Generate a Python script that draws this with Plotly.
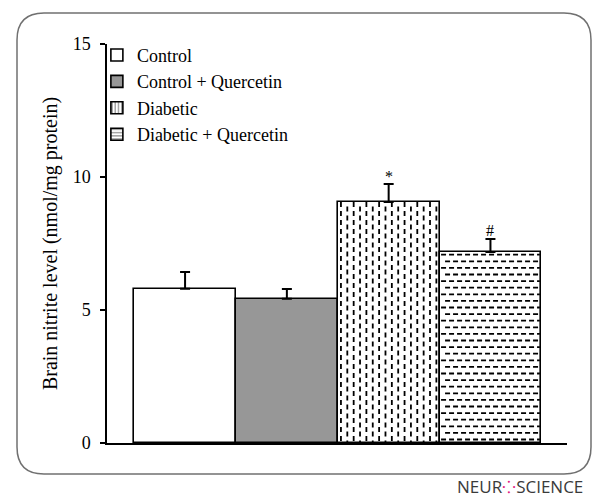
import plotly.graph_objects as go

# ---- data -------------------------------------------------------------
groups = ["Control", "Control + Quercetin", "Diabetic", "Diabetic + Quercetin"]
nitrite = [5.8, 5.42, 9.06, 7.18]          # nmol/mg protein
sem = [0.63, 0.37, 0.68, 0.49]
marks = ["", "", "*", "#"]
y_ticks = [0, 5, 10, 15]

fills = ["white", "#979797", "white", "white"]
legend_patterns = ["", "", "|", "-"]

SERIF = "Liberation Serif"

# pixel geometry of the plot area (used to size hatch dashes)
W, H = 593, 498
M_L, M_R, M_T, M_B = 107, 26, 44, 55
X_RANGE = [0.233, 4.752]
Y_RANGE = [0, 15]
PX_X = (X_RANGE[1] - X_RANGE[0]) / (W - M_L - M_R)
PX_Y = (Y_RANGE[1] - Y_RANGE[0]) / (H - M_T - M_B)

fig = go.Figure()

# bars with error bars (one trace per group)
for i, (g, v, e) in enumerate(zip(groups, nitrite, sem)):
    fig.add_trace(go.Bar(
        x=[i + 1], y=[v], width=1.0, showlegend=False,
        marker=dict(color=fills[i], line=dict(color="black", width=1.6)),
        error_y=dict(type="data", symmetric=False, array=[e], arrayminus=[0],
                     color="black", thickness=2, width=5),
        hoverinfo="skip",
    ))

# legend entries
for i, g in enumerate(groups):
    pat = dict(shape=legend_patterns[i], fgcolor="black", size=4, solidity=0.35) \
        if legend_patterns[i] else None
    fig.add_trace(go.Bar(
        x=[None], y=[None], name=g, showlegend=True,
        marker=dict(color=fills[i], line=dict(color="black", width=1.6),
                    pattern=pat),
    ))

# dashed vertical hatch for the "Diabetic" bar
idx = 2
left, right = idx + 1 - 0.5, idx + 1 + 0.5
n_cols = 16
col_step = (right - left) / n_cols
for k in range(n_cols):
    cx = left + (k + 0.5) * col_step
    top = nitrite[idx] - (0 if k % 2 == 0 else 4.5) * PX_Y
    fig.add_trace(go.Scatter(
        x=[cx, cx], y=[top, 1.0 * PX_Y], mode="lines",
        line=dict(color="black", width=1.8, dash="5px,4px"),
        showlegend=False, hoverinfo="skip",
    ))

# dashed horizontal hatch for the "Diabetic + Quercetin" bar
idx = 3
left, right = idx + 1 - 0.5, idx + 1 + 0.5
row_gap = 6.6 * PX_Y
yrow = nitrite[idx] - 2.7 * PX_Y
k = 0
while yrow > 2 * PX_Y:
    x0 = left + (1.5 if k % 2 == 0 else 5.5) * PX_X
    fig.add_trace(go.Scatter(
        x=[x0, right - 1.5 * PX_X], y=[yrow, yrow], mode="lines",
        line=dict(color="black", width=1.8, dash="5px,3px"),
        showlegend=False, hoverinfo="skip",
    ))
    yrow -= row_gap
    k += 1

# significance marks
for i, (m, v, e) in enumerate(zip(marks, nitrite, sem)):
    if m:
        fig.add_annotation(
            x=i + 1, y=v + e, text=m, showarrow=False, yanchor="bottom",
            yshift=-3 if m == "*" else -2,
            font=dict(family=SERIF, size=16, color="black"),
        )

# rounded frame around the figure (pixel coordinates relative to the axes origin)
fl, fr, ft, fb, r = 17 - M_L, 591 - M_L, H - M_B - 13, H - M_B - 474, 27
frame = (f"M{fl + r},{ft} L{fr - r},{ft} Q{fr},{ft} {fr},{ft - r} "
         f"L{fr},{fb + r} Q{fr},{fb} {fr - r},{fb} "
         f"L{fl + r},{fb} Q{fl},{fb} {fl},{fb + r} "
         f"L{fl},{ft - r} Q{fl},{ft} {fl + r},{ft} Z")
fig.add_shape(type="path", path=frame, xref="paper", yref="paper",
              xsizemode="pixel", ysizemode="pixel", xanchor=0, yanchor=0,
              line=dict(color="#707070", width=1.5), layer="below")

# journal logo
fig.add_annotation(
    xref="paper", yref="paper", x=(455 - M_L) / (W - M_L - M_R),
    y=-(486 - (H - M_B)) / (H - M_T - M_B), xanchor="left", yanchor="middle",
    text="NEUR<span style='color:#e2197f'>⁘</span>SCIENCE", showarrow=False,
    font=dict(family="Open Sans", size=17, color="#3a3a3a", weight=500),
)

fig.update_layout(
    width=W, height=H, margin=dict(l=M_L, r=M_R, t=M_T, b=M_B),
    paper_bgcolor="white", plot_bgcolor="white",
    barmode="overlay", bargap=0,
    showlegend=True,
    legend=dict(x=-0.022, y=1.018, xanchor="left", yanchor="top",
                bgcolor="rgba(0,0,0,0)", borderwidth=0,
                font=dict(family=SERIF, size=18, color="black"),
                tracegroupgap=0),
    xaxis=dict(range=X_RANGE, showline=True, linecolor="black", linewidth=1.5,
               showticklabels=False, ticks="", showgrid=False, zeroline=False,
               fixedrange=True),
    yaxis=dict(range=Y_RANGE, tickvals=y_ticks, showline=True, linecolor="black",
               linewidth=1.5, ticks="outside", ticklen=5, tickwidth=1.5,
               tickcolor="black", showgrid=False, zeroline=False,
               tickfont=dict(family=SERIF, size=18, color="black"),
               ticklabelstandoff=6,
               title=dict(text="Brain nitrite level (nmol/mg protein)",
                          font=dict(family=SERIF, size=20, color="black"),
                          standoff=10)),
)

fig.write_html("out.html")
